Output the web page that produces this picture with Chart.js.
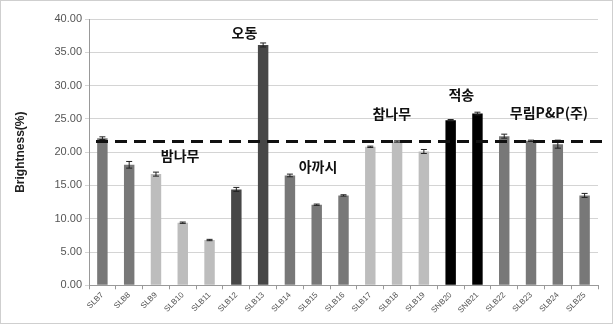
<!DOCTYPE html>
<html>
<head>
<meta charset="utf-8">
<script src="https://cdn.jsdelivr.net/npm/chart.js@4.4.1/dist/chart.umd.min.js"></script>
<style>
  html, body { margin: 0; padding: 0; background: #fff; }
  #wrap { position: absolute; left: 0; top: 0; width: 611px; height: 322px; border: 1px solid #cfcfcf; }
</style>
</head>
<body>
<div id="wrap"><canvas id="c" width="611" height="322"></canvas></div>
<script>
var categories = ["SLB7","SLB8","SLB9","SLB10","SLB11","SLB12","SLB13","SLB14","SLB15","SLB16","SLB17","SLB18","SLB19","SNB20","SNB21","SLB22","SLB23","SLB24","SLB25"];
var brightness = [22.1, 18.1, 16.7, 9.4, 6.8, 14.4, 36.1, 16.5, 12.1, 13.5, 20.8, 21.6, 20.1, 24.8, 25.8, 22.4, 21.7, 21.2, 13.5];
var errors = [0.2, 0.5, 0.3, 0.1, 0.1, 0.3, 0.3, 0.2, 0.1, 0.1, 0.1, 0.1, 0.3, 0.1, 0.2, 0.3, 0.1, 0.6, 0.3];
var groups = ["mid","mid","light","light","light","dark","dark","mid","mid","mid","light","light","light","black","black","mid","mid","mid","mid"];
var refLine = 21.6;
var yTicks = [0, 5, 10, 15, 20, 25, 30, 35, 40];

// group labels: text, category position, value
var groupNames = ["밤나무", "오동", "아까시", "참나무", "적송", "무림P&P(주)"];
var groupX = [2.9, 5.3, 8.05, 10.8, 13.4, 16.67];
var groupY = [19.5, 38.0, 17.8, 25.8, 28.7, 26.0];

var shade = { mid: "#787878", light: "#bdbdbd", dark: "#474747", black: "#000000" };
var colors = groups.map(function (g) { return shade[g]; });

var extras = {
  id: "extras",
  afterDatasetsDraw: function (chart) {
    var ctx = chart.ctx;
    var xs = chart.scales.x, ys = chart.scales.y;
    ctx.save();
    // error bars
    ctx.strokeStyle = "#222";
    ctx.lineWidth = 1;
    for (var i = 0; i < brightness.length; i++) {
      var x = xs.getPixelForValue(i);
      var hi = ys.getPixelForValue(brightness[i] + errors[i]);
      var lo = ys.getPixelForValue(brightness[i] - errors[i]);
      ctx.beginPath();
      ctx.moveTo(x, hi); ctx.lineTo(x, lo);
      ctx.moveTo(x - 3, hi); ctx.lineTo(x + 3, hi);
      ctx.moveTo(x - 3, lo); ctx.lineTo(x + 3, lo);
      ctx.stroke();
    }
    // reference dashed line
    var yl = ys.getPixelForValue(refLine);
    ctx.strokeStyle = "#111";
    ctx.lineWidth = 3;
    ctx.setLineDash([12, 7]);
    ctx.beginPath();
    ctx.moveTo(xs.left + 7, yl);
    ctx.lineTo(chart.width - 5, yl);
    ctx.stroke();
    ctx.setLineDash([]);
    // group names
    ctx.fillStyle = "#111";
    ctx.font = "bold 14px 'Noto Sans CJK KR', sans-serif";
    ctx.textAlign = "center";
    ctx.textBaseline = "middle";
    for (var j = 0; j < groupNames.length; j++) {
      ctx.fillText(groupNames[j], xs.getPixelForValue(groupX[j]), ys.getPixelForValue(groupY[j]));
    }
    ctx.restore();
  }
};

new Chart(document.getElementById("c"), {
  type: "bar",
  data: {
    labels: categories,
    datasets: [{
      data: brightness,
      backgroundColor: colors,
      borderWidth: 0,
      barPercentage: 0.78,
      categoryPercentage: 0.5
    }]
  },
  options: {
    responsive: false,
    animation: false,
    layout: { padding: { top: 18, right: 14, left: 8, bottom: 7 } },
    plugins: { legend: { display: false }, tooltip: { enabled: false } },
    scales: {
      x: {
        grid: { offset: true, drawOnChartArea: false, color: "#999", tickLength: 4 },
        border: { color: "#999" },
        ticks: {
          color: "#555",
          font: { family: "Liberation Sans", size: 8 },
          maxRotation: 45, minRotation: 45, padding: 1
        }
      },
      y: {
        min: 0, max: 40,
        afterBuildTicks: function (s) { s.ticks = yTicks.map(function (v) { return { value: v }; }); },
        afterFit: function (s) { s.width = 80; },
        grid: { color: "#d4d4d4", tickLength: 4 },
        border: { color: "#999" },
        ticks: {
          color: "#555",
          font: { family: "Liberation Sans", size: 11 },
          callback: function (v) { return v.toFixed(2); }
        },
        title: {
          display: true, text: "Brightness(%)", color: "#222",
          font: { family: "Liberation Sans", size: 12, weight: "bold" }
        }
      }
    }
  },
  plugins: [extras]
});
</script>
</body>
</html>
